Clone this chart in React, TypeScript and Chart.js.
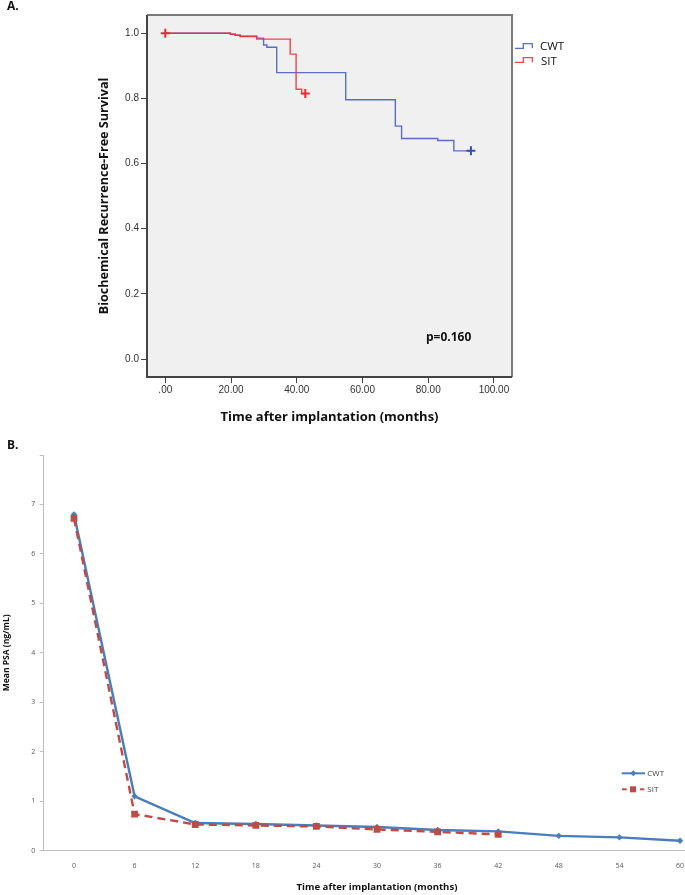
import React, { useEffect, useRef } from "react";
import { Chart, registerables } from "chart.js";

Chart.register(...registerables);

// ---------- Panel A: Kaplan-Meier data ----------
const kmXTicks = [0, 20, 40, 60, 80, 100];
const kmYTicks = [0, 0.2, 0.4, 0.6, 0.8, 1.0];

const cwtTimes = [0, 19.8, 21.3, 22.8, 27.8, 29.9, 30.9, 33.9, 54.9, 70.0, 71.9, 82.9, 87.8, 93.0];
const cwtSurv = [1.0, 0.997, 0.994, 0.991, 0.985, 0.964, 0.957, 0.879, 0.796, 0.715, 0.677, 0.671, 0.639, 0.639];

const sitTimes = [0, 19.8, 21.3, 22.8, 27.8, 38.0, 39.8, 41.5, 42.6];
const sitSurv = [1.0, 0.997, 0.994, 0.99, 0.982, 0.936, 0.828, 0.815, 0.815];

const cwtCensorTimes = [93.0];
const cwtCensorSurv = [0.639];
const sitCensorTimes = [0, 42.6];
const sitCensorSurv = [1.0, 0.815];

// ---------- Panel B: mean PSA data ----------
const psaMonths = [0, 6, 12, 18, 24, 30, 36, 42, 48, 54, 60];
const cwtPsa = [6.8, 1.1, 0.56, 0.54, 0.51, 0.48, 0.42, 0.39, 0.3, 0.27, 0.2];
const sitPsa = [6.72, 0.74, 0.53, 0.51, 0.49, 0.43, 0.38, 0.33];
const psaYTicks = [0, 1, 2, 3, 4, 5, 6, 7, 8];

const OPEN = "'Open Sans', 'Liberation Sans', Arial, sans-serif";
const ARIAL = "'Liberation Sans', Arial, sans-serif";

const KM_BLUE = "rgba(82,102,192,0.95)";
const KM_RED = "rgba(240,48,58,0.9)";
const PSA_BLUE = "#4a7ebb";
const PSA_RED = "#be4b48";

const frameA = {
  id: "frameA",
  beforeDraw(chart: any) {
    const { ctx, chartArea: a } = chart;
    ctx.save();
    ctx.fillStyle = "#f0f0f0";
    ctx.fillRect(a.left, a.top, a.right - a.left, a.bottom - a.top);
    ctx.restore();
  },
  afterDraw(chart: any) {
    const { ctx, chartArea: a } = chart;
    ctx.save();
    ctx.lineWidth = 2;
    ctx.strokeStyle = "#7a7a7a";
    ctx.beginPath();
    ctx.moveTo(a.left, a.top);
    ctx.lineTo(a.right, a.top);
    ctx.lineTo(a.right, a.bottom);
    ctx.stroke();
    ctx.strokeStyle = "#444";
    ctx.beginPath();
    ctx.moveTo(a.left, a.top);
    ctx.lineTo(a.left, a.bottom);
    ctx.lineTo(a.right, a.bottom);
    ctx.stroke();
    ctx.restore();
  },
};

function pts(xs: number[], ys: number[]) {
  return ys.map((y, i) => ({ x: xs[i], y }));
}

function KMChart() {
  const ref = useRef<HTMLCanvasElement | null>(null);
  useEffect(() => {
    if (!ref.current) return;
    const chart = new Chart(ref.current, {
      type: "line",
      data: {
        datasets: [
          {
            label: "CWT",
            data: pts(cwtTimes, cwtSurv),
            stepped: "before",
            borderColor: KM_BLUE,
            borderWidth: 1.4,
            pointRadius: 0,
            fill: false,
            order: 3,
          },
          {
            label: "SIT",
            data: pts(sitTimes, sitSurv),
            stepped: "before",
            borderColor: KM_RED,
            borderWidth: 1.4,
            pointRadius: 0,
            fill: false,
            order: 2,
          },
          {
            label: "CWT censored",
            data: pts(cwtCensorTimes, cwtCensorSurv),
            showLine: false,
            pointStyle: "cross",
            pointRadius: 4.5,
            pointBorderWidth: 2,
            pointBorderColor: "#3a4fa8",
            order: 1,
          },
          {
            label: "SIT censored",
            data: pts(sitCensorTimes, sitCensorSurv),
            showLine: false,
            pointStyle: "cross",
            pointRadius: 4.5,
            pointBorderWidth: 2,
            pointBorderColor: "#ee2a35",
            order: 0,
          },
        ],
      } as any,
      options: {
        animation: false,
        responsive: false,
        maintainAspectRatio: false,
        devicePixelRatio: 1,
        layout: { padding: { left: 0, top: 15, right: 173, bottom: 0 } },
        plugins: { legend: { display: false }, tooltip: { enabled: false } },
        scales: {
          x: {
            type: "linear",
            min: -5.57,
            max: 105.5,
            afterBuildTicks: (s: any) => {
              s.ticks = kmXTicks.map((v) => ({ value: v }));
            },
            afterFit: (s: any) => {
              s.height = 63;
            },
            grid: { display: true, drawOnChartArea: false, drawTicks: true, tickLength: 6, color: "#444" },
            border: { display: false },
            ticks: {
              callback: (v: any) => (Number(v) === 0 ? ".00" : Number(v).toFixed(2)),
              font: { family: ARIAL, size: 10 },
              color: "#333",
              padding: 1,
              maxRotation: 0,
              autoSkip: false,
            },
            title: {
              display: true,
              text: "Time after implantation (months)",
              font: { family: OPEN, size: 13, weight: "bold" },
              color: "#111",
              padding: { top: 0, bottom: 14.6 },
            },
          },
          y: {
            type: "linear",
            min: -0.055,
            max: 1.056,
            afterBuildTicks: (s: any) => {
              s.ticks = kmYTicks.map((v) => ({ value: v }));
            },
            afterFit: (s: any) => {
              s.width = 147;
            },
            grid: { display: true, drawOnChartArea: false, drawTicks: true, tickLength: 6, color: "#444" },
            border: { display: false },
            ticks: {
              callback: (v: any) => Number(v).toFixed(1),
              font: { family: ARIAL, size: 10 },
              color: "#333",
              padding: 2,
            },
            title: {
              display: true,
              text: "Biochemical Recurrence-Free Survival",
              font: { family: OPEN, size: 12.6, weight: "bold" },
              color: "#111",
              padding: { top: 96.5, bottom: 0 },
            },
          },
        },
      } as any,
      plugins: [frameA],
    });
    return () => chart.destroy();
  }, []);
  return (
    <canvas
      ref={ref}
      width={685}
      height={440}
      style={{ position: "absolute", left: 0, top: 0, width: 685, height: 440 }}
    />
  );
}

function PSAChart() {
  const ref = useRef<HTMLCanvasElement | null>(null);
  useEffect(() => {
    if (!ref.current) return;
    const chart = new Chart(ref.current, {
      type: "line",
      data: {
        datasets: [
          {
            label: "CWT",
            data: pts(psaMonths, cwtPsa),
            borderColor: PSA_BLUE,
            backgroundColor: PSA_BLUE,
            borderWidth: 2.4,
            pointStyle: "rectRot",
            pointRadius: 3.2,
            pointBorderWidth: 0,
            order: 2,
          },
          {
            label: "SIT",
            data: pts(psaMonths, sitPsa),
            borderColor: PSA_RED,
            backgroundColor: PSA_RED,
            borderWidth: 2.4,
            borderDash: [8, 5],
            pointStyle: "rect",
            pointRadius: 4.8,
            pointBorderWidth: 0,
            order: 1,
          },
        ],
      } as any,
      options: {
        animation: false,
        responsive: false,
        maintainAspectRatio: false,
        devicePixelRatio: 1,
        layout: { padding: { left: 0, top: 15, right: 49.7, bottom: 0 } },
        plugins: { legend: { display: false }, tooltip: { enabled: false } },
        scales: {
          x: {
            type: "linear",
            min: -3,
            max: 63,
            afterBuildTicks: (s: any) => {
              s.ticks = psaMonths.map((v) => ({ value: v }));
            },
            afterFit: (s: any) => {
              s.height = 44.3;
            },
            grid: { display: false },
            border: { display: true, color: "#bfbfbf", width: 1 },
            ticks: {
              font: { family: OPEN, size: 7 },
              color: "#595959",
              padding: 3.5,
              maxRotation: 0,
              autoSkip: false,
            },
            title: {
              display: true,
              text: "Time after implantation (months)",
              font: { family: OPEN, size: 9.6, weight: "bold" },
              color: "#111",
              padding: { top: 0, bottom: 1.6 },
            },
          },
          y: {
            type: "linear",
            min: 0,
            max: 8,
            afterBuildTicks: (s: any) => {
              s.ticks = psaYTicks.map((v) => ({ value: v }));
            },
            afterFit: (s: any) => {
              s.width = 43.7;
            },
            grid: { display: true, drawOnChartArea: false, drawTicks: true, tickLength: 4, color: "#bfbfbf" },
            border: { display: true, color: "#bfbfbf", width: 1 },
            ticks: {
              callback: (v: any) => (Number(v) === 8 ? "" : String(v)),
              font: { family: OPEN, size: 7 },
              color: "#595959",
              padding: 4.5,
            },
            title: {
              display: true,
              text: "Mean PSA (ng/mL)",
              font: { family: OPEN, size: 8.5, weight: "bold" },
              color: "#111",
              padding: { top: 1, bottom: 0 },
            },
          },
        },
      } as any,
    });
    return () => chart.destroy();
  }, []);
  return (
    <canvas
      ref={ref}
      width={760}
      height={455}
      style={{ position: "absolute", left: 0, top: 440, width: 760, height: 455 }}
    />
  );
}

const txt = (extra: React.CSSProperties): React.CSSProperties => ({
  position: "absolute",
  whiteSpace: "nowrap",
  fontFamily: OPEN,
  color: "#111",
  lineHeight: "16px",
  ...extra,
});

export default function App() {
  return (
    <div
      style={{
        position: "absolute",
        left: 0,
        top: 0,
        width: 685,
        height: 895,
        overflow: "hidden",
        background: "#fff",
      }}
    >
      <KMChart />
      <PSAChart />
      <div style={txt({ left: 7, top: -2, fontSize: 12, fontWeight: 700 })}>A.</div>
      <div style={txt({ left: 7, top: 437, fontSize: 12, fontWeight: 700 })}>B.</div>
      <div style={txt({ left: 426, top: 329, fontSize: 12, fontWeight: 700 })}>p=0.160</div>

      {/* Legend A */}
      <svg width={24} height={28} style={{ position: "absolute", left: 513, top: 40 }}>
        <path d="M2 8.3 H10.3 V3.7 H19.3 V8.3" stroke={KM_BLUE} strokeWidth={1.3} fill="none" />
        <path d="M2 22.3 H10.3 V17.7 H19.3 V22.3" stroke={KM_RED} strokeWidth={1.3} fill="none" />
      </svg>
      <div style={txt({ left: 540, top: 37.7, fontSize: 11.5 })}>CWT</div>
      <div style={txt({ left: 541, top: 52.7, fontSize: 11.5 })}>SIT</div>

      {/* Legend B */}
      <svg width={28} height={30} style={{ position: "absolute", left: 620, top: 765 }}>
        <line x1={1.7} y1={8.3} x2={25} y2={8.3} stroke={PSA_BLUE} strokeWidth={2} />
        <path d="M13.3 5.3 L16.3 8.3 L13.3 11.3 L10.3 8.3 Z" fill={PSA_BLUE} />
        <line x1={2} y1={24.3} x2={6.7} y2={24.3} stroke={PSA_RED} strokeWidth={2} />
        <rect x={10} y={21.3} width={6} height={6} fill={PSA_RED} />
        <line x1={20} y1={24.3} x2={24.3} y2={24.3} stroke={PSA_RED} strokeWidth={2} />
      </svg>
      <div style={txt({ left: 647.3, top: 765, fontSize: 8, color: "#404040" })}>CWT</div>
      <div style={txt({ left: 647.3, top: 781.3, fontSize: 8, color: "#404040" })}>SIT</div>
    </div>
  );
}
